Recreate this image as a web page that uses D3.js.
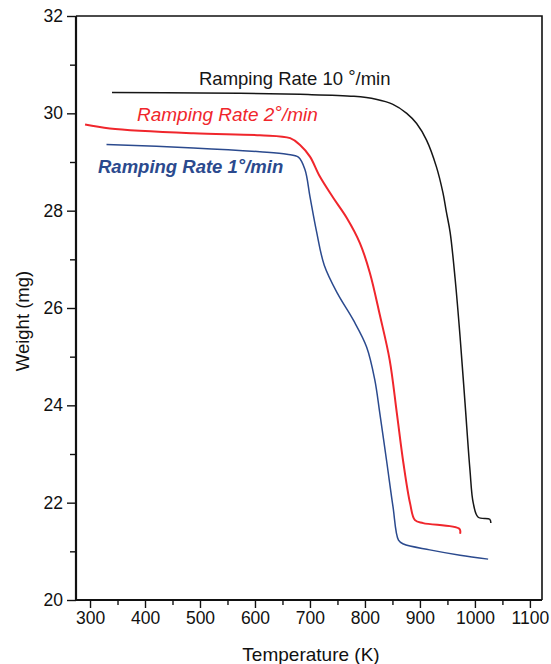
<!DOCTYPE html>
<html>
<head>
<meta charset="utf-8">
<script src="https://cdn.jsdelivr.net/npm/d3@7"></script>
<style>
  body { margin: 0; background: #fff; }
  svg { font-family: "Liberation Sans", Arial, sans-serif; }
</style>
</head>
<body>
<svg id="chart" width="551" height="664"></svg>
<script>
// data (temperature K, weight mg)
let rate10Temp = [340, 500, 682, 780, 820, 850, 876, 894, 912, 930, 942, 948, 955, 964, 973, 982, 991, 997, 1006, 1027, 1029];
let rate10Weight = [30.43, 30.42, 30.39, 30.35, 30.29, 30.19, 30.0, 29.79, 29.45, 28.90, 28.36, 27.98, 27.55, 26.60, 25.41, 24.05, 22.67, 21.99, 21.70, 21.66, 21.58];

let rate2Temp = [291, 336, 488, 609, 664, 682, 700, 718, 742, 767, 791, 809, 827, 845, 858, 870, 882, 891, 906, 972, 973];
let rate2Weight = [29.77, 29.69, 29.59, 29.55, 29.49, 29.35, 29.11, 28.70, 28.27, 27.85, 27.33, 26.72, 25.86, 24.93, 23.84, 22.81, 21.99, 21.64, 21.58, 21.46, 21.36];

let rate1Temp = [330, 488, 609, 658, 679, 691, 700, 712, 726, 750, 779, 803, 818, 827, 840, 851, 861, 870, 918, 973, 1024];
let rate1Weight = [29.36, 29.29, 29.21, 29.16, 29.10, 28.84, 28.29, 27.57, 26.88, 26.30, 25.75, 25.20, 24.52, 23.84, 22.81, 21.92, 21.23, 21.15, 21.03, 20.92, 20.84];

let xMajor = [300, 400, 500, 600, 700, 800, 900, 1000, 1100];
let xMinor = [350, 450, 550, 650, 750, 850, 950, 1050];
let yMajor = [20, 22, 24, 26, 28, 30, 32];
let yMinor = [21, 23, 25, 27, 29, 31];

let seriesNames = ["Ramping Rate 10", "Ramping Rate 2", "Ramping Rate 1"];
let seriesColors = ["#161616", "#f0262c", "#2b4a8e"];

let svg = d3.select("#chart");
let margin = { top: 16, right: 9, bottom: 64, left: 76 };
let width = 551 - margin.left - margin.right;
let height = 664 - margin.top - margin.bottom;

let g = svg.append("g").attr("transform", "translate(" + margin.left + "," + margin.top + ")");

let x = d3.scaleLinear().domain([274.5, 1122]).range([0, width]);
let y = d3.scaleLinear().domain([20, 32]).range([height, 0]);

// frame on top and right
g.append("path")
  .attr("d", "M0,0H" + width + "V" + height)
  .style("fill", "none")
  .style("stroke", "#111")
  .style("stroke-width", 1.6);

// axes: major ticks with labels, minor ticks without
function styleAxis(sel)
{
  sel.selectAll("text")
    .style("font-size", "17.5px")
    .style("fill", "#111");
  sel.selectAll("line").style("stroke", "#111").style("stroke-width", 1.4);
  sel.select(".domain").remove();
}

g.append("g").attr("transform", "translate(0," + height + ")")
  .call(d3.axisBottom(x).tickValues(xMajor).tickSize(8).tickPadding(4).tickFormat(d3.format("d")))
  .call(styleAxis);
g.append("g").attr("transform", "translate(0," + height + ")")
  .call(d3.axisBottom(x).tickValues(xMinor).tickSize(5).tickFormat(""))
  .call(styleAxis);

g.append("g")
  .call(d3.axisLeft(y).tickValues(yMajor).tickSize(9).tickPadding(4).tickFormat(d3.format("d")))
  .call(styleAxis);
g.append("g")
  .call(d3.axisLeft(y).tickValues(yMinor).tickSize(6).tickFormat(""))
  .call(styleAxis);

// thick axis lines on left and bottom
g.append("path")
  .attr("d", "M0,0V" + height + "H" + width)
  .style("fill", "none")
  .style("stroke", "#111")
  .style("stroke-width", 2.2);

// axis titles
svg.append("text")
  .attr("x", 311)
  .attr("y", 661)
  .attr("text-anchor", "middle")
  .style("font-size", "19px")
  .style("fill", "#111")
  .text("Temperature (K)");

svg.append("text")
  .attr("transform", "translate(29,321) rotate(-90)")
  .attr("text-anchor", "middle")
  .style("font-size", "18.5px")
  .style("fill", "#111")
  .text("Weight (mg)");

// curves
let line = d3.line()
  .x(function (d)
  {
    return x(d[0]);
  })
  .y(function (d)
  {
    return y(d[1]);
  })
  .curve(d3.curveCatmullRom.alpha(0.5));

let allSeries = [
  d3.zip(rate10Temp, rate10Weight),
  d3.zip(rate2Temp, rate2Weight),
  d3.zip(rate1Temp, rate1Weight)
];

allSeries.forEach(function (pts, i)
{
  g.append("path")
    .attr("d", line(pts))
    .style("fill", "none")
    .style("stroke", seriesColors[i])
    .style("stroke-width", i == 1 ? 2 : 1.5);
});

// in-plot labels
let labelX = [199, 137, 98];
let labelY = [85, 121, 173];
let labelSize = [18.5, 19, 18.5];
let labelStyle = ["normal", "italic", "italic"];
let labelWeight = ["normal", "normal", "bold"];

seriesNames.forEach(function (name, i)
{
  let t = svg.append("text")
    .attr("x", labelX[i])
    .attr("y", labelY[i])
    .style("font-size", labelSize[i] + "px")
    .style("font-style", labelStyle[i])
    .style("font-weight", labelWeight[i])
    .style("fill", seriesColors[i]);
  t.append("tspan").text(name + (i == 0 ? " " : ""));
  t.append("tspan").text("°").attr("dy", -2);
  t.append("tspan").text("/min").attr("dy", 2);
});
</script>
</body>
</html>
